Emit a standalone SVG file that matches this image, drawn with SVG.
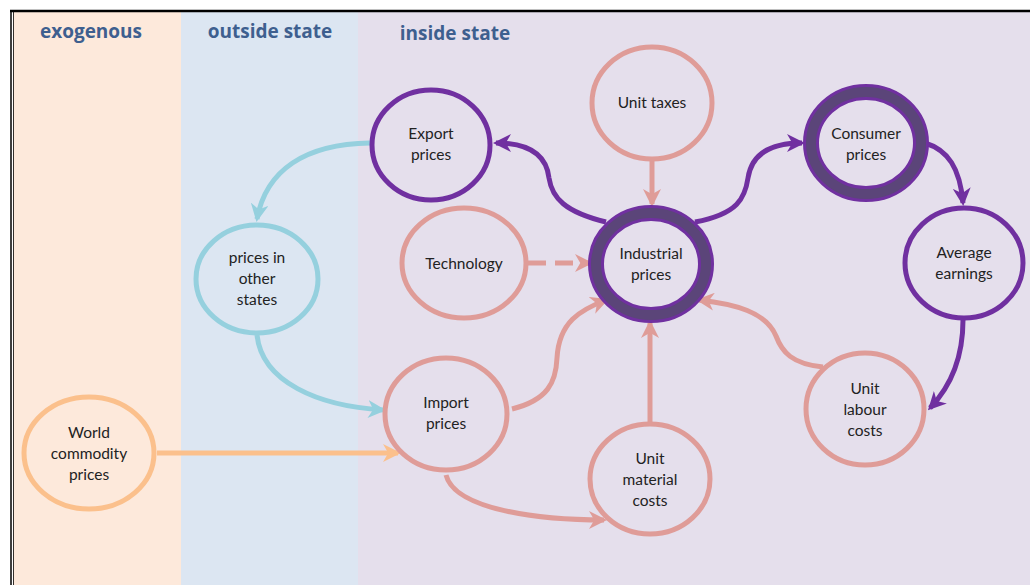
<svg xmlns="http://www.w3.org/2000/svg" width="1030" height="585" viewBox="0 0 1030 585">
<defs>
<style>
.lbl{font-family:Lato,"Open Sans","Liberation Sans",sans-serif;font-size:15.5px;fill:#222222;text-anchor:middle}
.hd{font-family:"Open Sans","Liberation Sans",sans-serif;font-size:19px;font-weight:bold;fill:#3e5f8f;text-anchor:middle}
.node{fill:none;stroke-width:5}
.pink{stroke:#df9c98}
.purple{stroke:#7030a0}
.blue{stroke:#95d0de}
.orange{stroke:#fbc08c}
.thick{fill:none;stroke:#7030a0;stroke-width:16}
.thickin{fill:none;stroke:#5b4579;stroke-width:10}
.c{fill:none;stroke-width:5}
</style>
<marker id="ap" viewBox="0 0 12 12" refX="10" refY="6" markerWidth="18" markerHeight="18" markerUnits="userSpaceOnUse" orient="auto"><path d="M0,0 L12,6 L0,12 L3.5,6 z" fill="#df9c98"/></marker>
<marker id="au" viewBox="0 0 12 12" refX="10" refY="6" markerWidth="18" markerHeight="18" markerUnits="userSpaceOnUse" orient="auto"><path d="M0,0 L12,6 L0,12 L3.5,6 z" fill="#7030a0"/></marker>
<marker id="ab" viewBox="0 0 12 12" refX="10" refY="6" markerWidth="18" markerHeight="18" markerUnits="userSpaceOnUse" orient="auto"><path d="M0,0 L12,6 L0,12 L3.5,6 z" fill="#95d0de"/></marker>
<marker id="ao" viewBox="0 0 12 12" refX="10" refY="6" markerWidth="18" markerHeight="18" markerUnits="userSpaceOnUse" orient="auto"><path d="M0,0 L12,6 L0,12 L3.5,6 z" fill="#fbc08c"/></marker>
</defs>
<rect x="0" y="0" width="1030" height="585" fill="#ffffff"/>
<g id="panels">
<rect x="13" y="12" width="168" height="573" fill="#fde9db"/>
<rect x="181" y="12" width="177" height="573" fill="#dce6f2"/>
<rect x="358" y="12" width="672" height="573" fill="#e5dfec"/>
<line x1="10" y1="11" x2="1030" y2="11" stroke="#000" stroke-width="2.5"/>
<line x1="11" y1="10" x2="11" y2="585" stroke="#000" stroke-width="1.5"/>
<line x1="13.5" y1="12" x2="13.5" y2="585" stroke="#000" stroke-width="0.8"/>
<text class="hd" x="91" y="38">exogenous</text>
<text class="hd" x="270" y="38">outside state</text>
<text class="hd" x="455" y="40">inside state</text>
</g>
<g id="connectors">
<path class="c purple" d="M606,222 C565,212 552,198 549,178 C546,152 525,143 496,143" marker-end="url(#au)"/>
<path class="c purple" d="M695,222 C738,214 745,198 748,178 C752,152 773,143 802,143" marker-end="url(#au)"/>
<path class="c pink" d="M652,160 L652,204" marker-end="url(#ap)"/>
<path class="c pink" d="M528,263 L590,263" stroke-dasharray="18,9" marker-end="url(#ap)"/>
<path class="c pink" d="M512,409 C548,400 556,382 557,358 C559,322 580,310 606,300" marker-end="url(#ap)"/>
<path class="c pink" d="M650,423 L650,323" marker-end="url(#ap)"/>
<path class="c pink" d="M823,367 C792,364 782,352 776,336 C766,312 735,304 699,300" marker-end="url(#ap)"/>
<path class="c purple" d="M925,143 C948,150 960,168 963,203" marker-end="url(#au)"/>
<path class="c purple" d="M963,320 C963,352 955,382 930,408" marker-end="url(#au)"/>
<path class="c blue" d="M370,143 C305,144 266,170 257,219" marker-end="url(#ab)"/>
<path class="c blue" d="M257,335 C262,382 318,406 383,410" marker-end="url(#ab)"/>
<path class="c orange" d="M157,453 L398,453" marker-end="url(#ao)"/>
<path class="c pink" d="M446,475 C455,510 540,520 604,520" marker-end="url(#ap)"/>
</g>
<g id="export-prices"><ellipse class="node purple" cx="431" cy="145" rx="59" ry="55"/><text class="lbl" x="431" y="139">Export</text><text class="lbl" x="431" y="160">prices</text></g>
<g id="unit-taxes"><ellipse class="node pink" cx="652" cy="103" rx="60" ry="56"/><text class="lbl" x="652" y="108">Unit taxes</text></g>
<g id="consumer-prices"><ellipse class="thick" cx="866" cy="143" rx="55" ry="51"/><ellipse class="thickin" cx="866" cy="143" rx="55" ry="51"/><text class="lbl" x="866" y="139">Consumer</text><text class="lbl" x="866" y="160">prices</text></g>
<g id="technology"><ellipse class="node pink" cx="464" cy="263" rx="62" ry="55"/><text class="lbl" x="464" y="269">Technology</text></g>
<g id="industrial-prices"><ellipse class="thick" cx="651" cy="264" rx="55" ry="51"/><ellipse class="thickin" cx="651" cy="264" rx="55" ry="51"/><text class="lbl" x="651" y="259">Industrial</text><text class="lbl" x="651" y="280">prices</text></g>
<g id="average-earnings"><ellipse class="node purple" cx="964" cy="263" rx="59" ry="55"/><text class="lbl" x="964" y="258">Average</text><text class="lbl" x="964" y="279">earnings</text></g>
<g id="prices-in-other-states"><ellipse class="node blue" cx="257" cy="279" rx="61" ry="54"/><text class="lbl" x="257" y="263">prices in</text><text class="lbl" x="257" y="284">other</text><text class="lbl" x="257" y="305">states</text></g>
<g id="import-prices"><ellipse class="node pink" cx="446" cy="414" rx="61" ry="56"/><text class="lbl" x="446" y="408">Import</text><text class="lbl" x="446" y="429">prices</text></g>
<g id="unit-labour-costs"><ellipse class="node pink" cx="865" cy="409" rx="59" ry="56"/><text class="lbl" x="865" y="394">Unit</text><text class="lbl" x="865" y="415">labour</text><text class="lbl" x="865" y="436">costs</text></g>
<g id="world-commodity-prices"><ellipse class="node orange" cx="89" cy="453" rx="65" ry="56"/><text class="lbl" x="89" y="438">World</text><text class="lbl" x="89" y="459">commodity</text><text class="lbl" x="89" y="480">prices</text></g>
<g id="unit-material-costs"><ellipse class="node pink" cx="650" cy="479" rx="60" ry="55"/><text class="lbl" x="650" y="464">Unit</text><text class="lbl" x="650" y="485">material</text><text class="lbl" x="650" y="506">costs</text></g>
</svg>
